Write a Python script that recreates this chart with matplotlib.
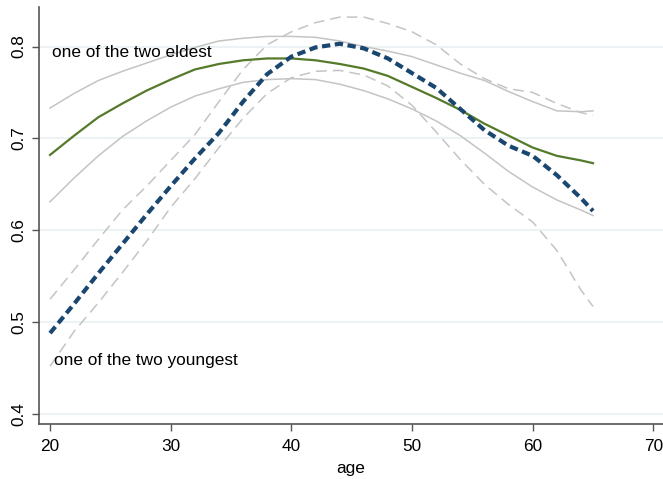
import matplotlib; matplotlib.use("Agg")
import matplotlib.pyplot as plt

plt.rcParams['font.family'] = ['Liberation Sans', 'DejaVu Sans']

age = [20, 22, 24, 26, 28, 30, 32, 34, 36, 38, 40, 42, 44, 46, 48, 50, 52, 54, 56, 58, 60, 62, 64, 65]

# one of the two eldest (solid) and its band
eldest    = [0.682, 0.703, 0.723, 0.738, 0.752, 0.764, 0.775, 0.781, 0.785, 0.787, 0.787, 0.785, 0.781,
             0.776, 0.768, 0.756, 0.744, 0.731, 0.716, 0.703, 0.690, 0.681, 0.676, 0.673]
eldest_hi = [0.733, 0.749, 0.763, 0.773, 0.782, 0.791, 0.799, 0.806, 0.809, 0.811, 0.811, 0.810, 0.806,
             0.800, 0.795, 0.789, 0.780, 0.771, 0.763, 0.751, 0.740, 0.730, 0.729, 0.730]
eldest_lo = [0.631, 0.657, 0.681, 0.702, 0.719, 0.734, 0.746, 0.754, 0.761, 0.764, 0.765, 0.764, 0.759,
             0.752, 0.743, 0.732, 0.719, 0.703, 0.684, 0.664, 0.647, 0.633, 0.622, 0.616]

# one of the two youngest (dashed) and its band
youngest = [0.488, 0.520, 0.553, 0.585, 0.617, 0.648, 0.678, 0.706, 0.740, 0.770, 0.789, 0.799, 0.803,
            0.798, 0.787, 0.771, 0.755, 0.732, 0.709, 0.692, 0.681, 0.660, 0.635, 0.621]
young_hi = [0.525, 0.557, 0.590, 0.622, 0.648, 0.676, 0.704, 0.740, 0.775, 0.802, 0.816, 0.826, 0.832,
            0.832, 0.825, 0.816, 0.802, 0.781, 0.765, 0.754, 0.750, 0.738, 0.728, 0.725]
young_lo = [0.452, 0.490, 0.521, 0.554, 0.588, 0.625, 0.656, 0.690, 0.722, 0.749, 0.766, 0.773, 0.774,
            0.769, 0.757, 0.736, 0.707, 0.677, 0.650, 0.628, 0.609, 0.578, 0.535, 0.517]

fig = plt.figure(figsize=(6.63, 4.79), dpi=100)
ax = fig.add_axes([39.3/663, 1-424.3/479, (663-39.3)/663, (424.3-7)/479])

grey = "#c4c4c4"
ax.plot(age, eldest_hi, color=grey, lw=1.1)
ax.plot(age, eldest_lo, color=grey, lw=1.1)
ax.plot(age, young_hi, color=grey, lw=1.1, dashes=(7, 4))
ax.plot(age, young_lo, color=grey, lw=1.1, dashes=(7, 4))
ax.plot(age, eldest, color="#557a2a", lw=1.6)
ax.plot(age, youngest, color="#1a476f", lw=3, dashes=(2, 1.1))

ax.text(20.2, 0.794, "one of the two eldest", fontsize=12.4, va="center", ha="left")
ax.text(20.3, 0.458, "one of the two youngest", fontsize=12.4, va="center", ha="left")

ax.set_xlim(19.11, 70.8)
ax.set_ylim(0.3888, 0.843)
ax.set_xticks([20, 30, 40, 50, 60, 70])
ax.set_yticks([0.4, 0.5, 0.6, 0.7, 0.8])
ax.set_yticklabels(["0.4", "0.5", "0.6", "0.7", "0.8"], rotation=90, va="center")
ax.set_xlabel("age", fontsize=12.4, labelpad=5)
ax.tick_params(labelsize=12.4, color="#555555", length=5.3, width=1)
ax.tick_params(axis="x", pad=5.5)
ax.tick_params(axis="y", pad=4)
for s in ["top", "right"]:
    ax.spines[s].set_visible(False)
for s in ["left", "bottom"]:
    ax.spines[s].set_color("#555555")
    ax.spines[s].set_linewidth(1.2)
ax.yaxis.grid(True, color="#eaf1f3", lw=1.2)
ax.set_axisbelow(True)

fig.savefig("out.png", dpi=100)
